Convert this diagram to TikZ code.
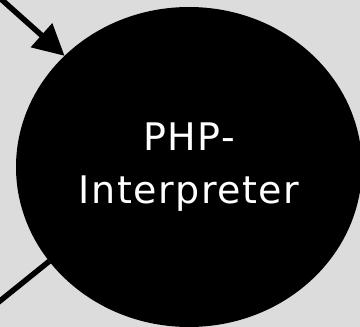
\documentclass[tikz,border=0pt]{standalone}
\usepackage{fontspec}
\newfontfamily\interpfont[LetterSpace=4.0]{DejaVu Sans}
\usetikzlibrary{shapes,arrows.meta}
\definecolor{bggray}{RGB}{220,220,220}

\begin{document}
\begin{tikzpicture}[x=1pt,y=1pt,
  bubble/.style={fill=black,ellipse,inner sep=0pt,outer sep=0pt,minimum width=346pt,minimum height=320pt},
  link/.style={line width=5.5pt}]
\useasboundingbox (0,0) rectangle (360,327);
\clip (0,0) rectangle (360,327);
\fill[bggray] (0,0) rectangle (360,327);

\node[bubble,text=white,align=center,font=\interpfont\fontsize{38}{53}\selectfont] (php) at (189,160) {PHP-\\Interpreter};

\coordinate (in1) at (-8,336);
\coordinate (in2) at (-10,18);
\draw[link,-{Triangle[length=31pt,width=31pt]}] (in1) -- (php);
\draw[link] (in2) -- (php.214);
\end{tikzpicture}
\end{document}
